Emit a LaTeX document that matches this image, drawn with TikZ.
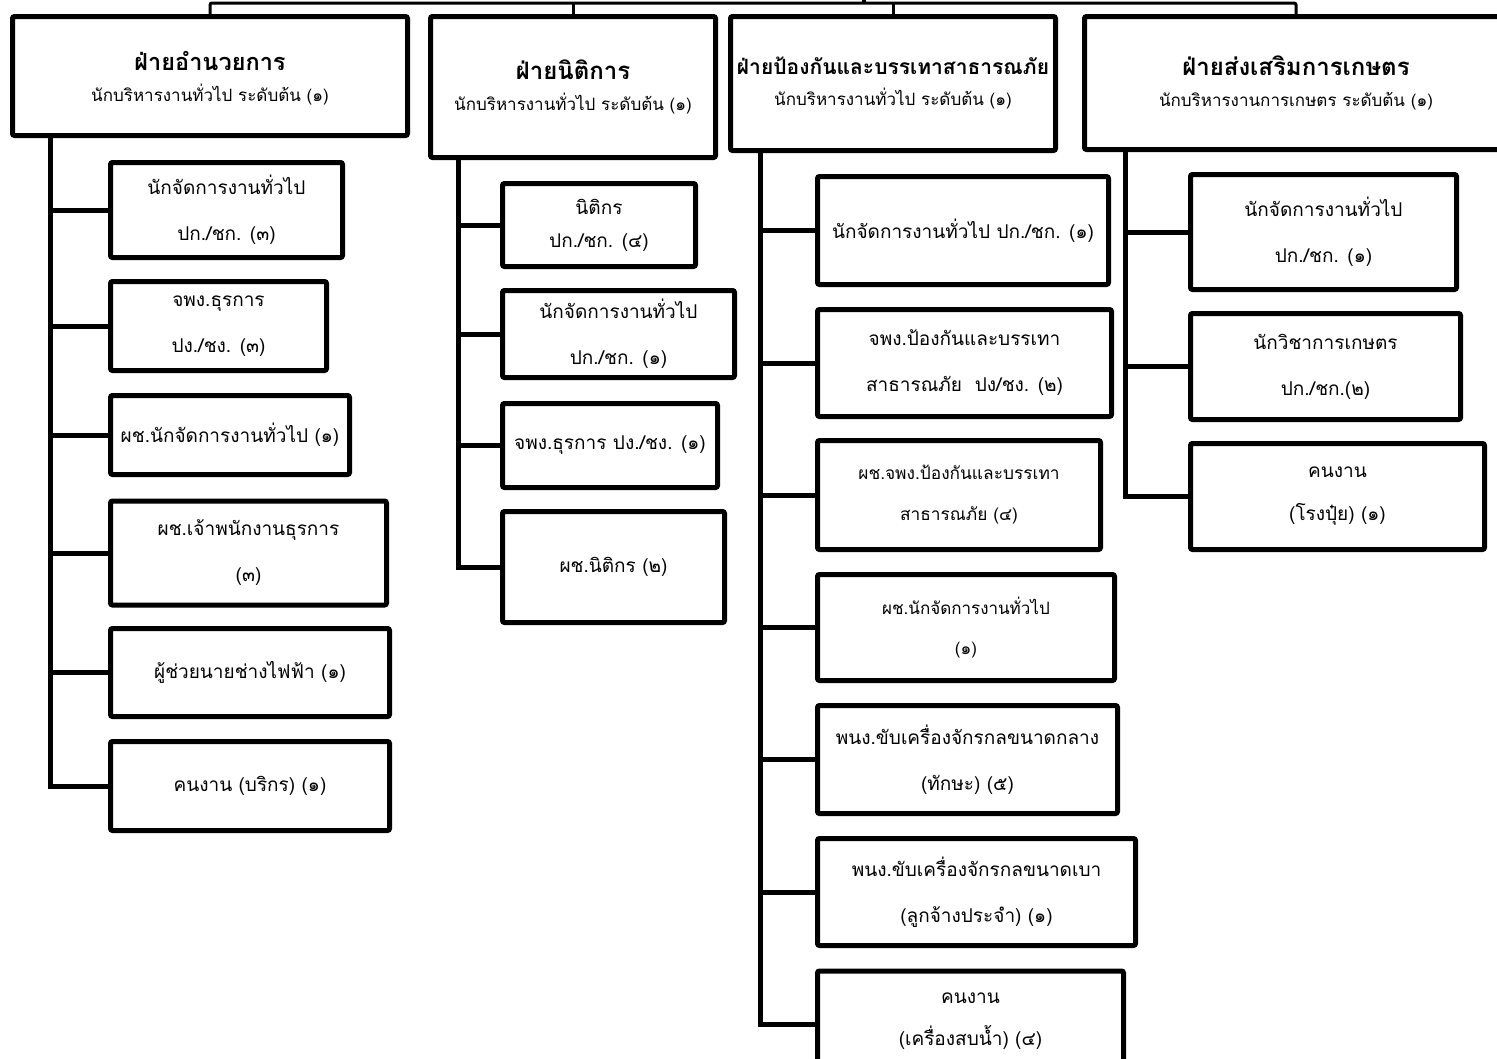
\documentclass[tikz,border=0pt]{standalone}
\usepackage{fontspec}
\newfontfamily\thai[Script=Thai]{Loma}
\begin{document}
\begin{tikzpicture}[x=1pt,y=-1pt,
  box/.style={draw, line width=5pt, rounded corners=2pt, align=center, inner sep=0pt, font=\thai\fontsize{19}{46}\selectfont},
  head/.style={box, font=\thai\fontsize{17}{31}\selectfont},
  conn/.style={line width=5pt},
  topline/.style={line width=3pt, rounded corners=2pt}]
\useasboundingbox (0,0) rectangle (1497,1058);
\clip (0,0) rectangle (1497,1058);
% heads
\node[head, minimum width=395pt, minimum height=119pt, text depth=0pt] (b1) at (210,76) {{\bfseries\fontsize{23.5}{31}\selectfont ฝ่ายอำนวยการ}\\นักบริหารงานทั่วไป ระดับต้น (๑)};
\node[head, minimum width=285pt, minimum height=141pt] (b2) at (573,87) {{\bfseries\fontsize{24}{29}\selectfont ฝ่ายนิติการ}\\นักบริหารงานทั่วไป ระดับต้น (๑)};
\node[head, minimum width=325pt, minimum height=134pt] (b3) at (893,83.5) {{\bfseries\fontsize{21}{31}\selectfont ฝ่ายป้องกันและบรรเทาสาธารณภัย}\\นักบริหารงานทั่วไป ระดับต้น (๑)};
\node[head, minimum width=423pt, minimum height=133pt] (b4) at (1296,83) {{\bfseries\fontsize{24}{31}\selectfont ฝ่ายส่งเสริมการเกษตร}\\นักบริหารงานการเกษตร ระดับต้น (๑)};
% column 1
\node[box, minimum width=232pt, minimum height=95pt] (c1) at (226.5,210) {นักจัดการงานทั่วไป\\ปก./ชก. (๓)};
\node[box, minimum width=216pt, minimum height=89pt] (c2) at (218.5,326) {จพง.ธุรการ\\ปง./ชง. (๓)};
\node[box, minimum width=239pt, minimum height=79pt] (c3) at (230,435) {ผช.นักจัดการงานทั่วไป (๑)};
\node[box, minimum width=276pt, minimum height=104pt] (c4) at (248.5,553) {ผช.เจ้าพนักงานธุรการ\\(๓)};
\node[box, minimum width=279pt, minimum height=88pt] (c5) at (250,672.5) {ผู้ช่วยนายช่างไฟฟ้า (๑)};
\node[box, minimum width=279pt, minimum height=89pt] (c6) at (250,786) {คนงาน (บริกร) (๑)};
% column 2
\node[box, minimum width=193pt, minimum height=83pt, font=\thai\fontsize{19}{33}\selectfont] (n1) at (599,225) {นิติกร\\ปก./ชก. (๔)};
\node[box, minimum width=232pt, minimum height=87pt] (n2) at (618.5,334) {นักจัดการงานทั่วไป\\ปก./ชก. (๑)};
\node[box, minimum width=215pt, minimum height=84pt] (n3) at (610,445.5) {จพง.ธุรการ ปง./ชง. (๑)};
\node[box, minimum width=222pt, minimum height=111pt] (n4) at (613.5,567) {ผช.นิติกร (๒)};
% column 3
\node[box, minimum width=291pt, minimum height=108pt] (p1) at (963,230.5) {นักจัดการงานทั่วไป ปก./ชก. (๑)};
\node[box, minimum width=294pt, minimum height=107pt] (p2) at (964.5,363) {จพง.ป้องกันและบรรเทา\\สาธารณภัย\ \ ปง/ชง. (๒)};
\node[box, minimum width=283pt, minimum height=109pt, font=\thai\fontsize{17.3}{41}\selectfont] (p3) at (959,495) {ผช.จพง.ป้องกันและบรรเทา\\สาธารณภัย (๔)};
\node[box, minimum width=297pt, minimum height=106pt, font=\thai\fontsize{17}{40}\selectfont] (p4) at (966,627.5) {ผช.นักจัดการงานทั่วไป\\(๑)};
\node[box, minimum width=300pt, minimum height=108pt] (p5) at (967.5,759.5) {พนง.ขับเครื่องจักรกลขนาดกลาง\\(ทักษะ) (๕)};
\node[box, minimum width=318pt, minimum height=107pt] (p6) at (976.5,892) {พนง.ขับเครื่องจักรกลขนาดเบา\\(ลูกจ้างประจำ) (๑)};
\node[box, minimum width=306pt, minimum height=100pt, font=\thai\fontsize{19}{42}\selectfont] (p7) at (970.5,1021) {คนงาน\\(เครื่องสบน้ำ) (๔)};
% column 4
\node[box, minimum width=266pt, minimum height=115pt] (a1) at (1323.5,232) {นักจัดการงานทั่วไป\\ปก./ชก. (๑)};
\node[box, minimum width=270pt, minimum height=106pt] (a2) at (1325.5,366.5) {นักวิชาการเกษตร\\ปก./ชก.(๒)};
\node[box, minimum width=294pt, minimum height=106pt, font=\thai\fontsize{19}{43}\selectfont] (a3) at (1337.5,496.5) {คนงาน\\(โรงปุ๋ย) (๑)};
% spines
\coordinate (s1) at ([xshift=-160pt]b1.south);
\coordinate (s2) at ([xshift=-115pt]b2.south);
\coordinate (s3) at ([xshift=-133pt]b3.south);
\coordinate (s4) at ([xshift=-171pt]b4.south);
\draw[conn] (s1) |- (c6.west);
\foreach \k in {c1,c2,c3,c4,c5} \draw[conn] (s1 |- \k.west) -- (\k.west);
\draw[conn] (s2) |- (n4.west);
\foreach \k in {n1,n2,n3} \draw[conn] (s2 |- \k.west) -- (\k.west);
\draw[conn] (s3) |- ([yshift=-3pt]p7.west);
\foreach \k in {p1,p2,p3,p4,p5,p6} \draw[conn] (s3 |- \k.west) -- (\k.west);
\draw[conn] (s4) |- (a3.west);
\foreach \k in {a1,a2} \draw[conn] (s4 |- \k.west) -- (\k.west);
% top bus
\coordinate (bus) at (864,3);
\coordinate (up) at (864,-5);
\draw[topline] (b1.north) |- (bus) -| (b4.north);
\draw[topline] (b2.north) -- (b2.north |- bus);
\draw[topline] (b3.north) -- (b3.north |- bus);
\draw[line width=4pt] (bus) -- (up);
\end{tikzpicture}
\end{document}
